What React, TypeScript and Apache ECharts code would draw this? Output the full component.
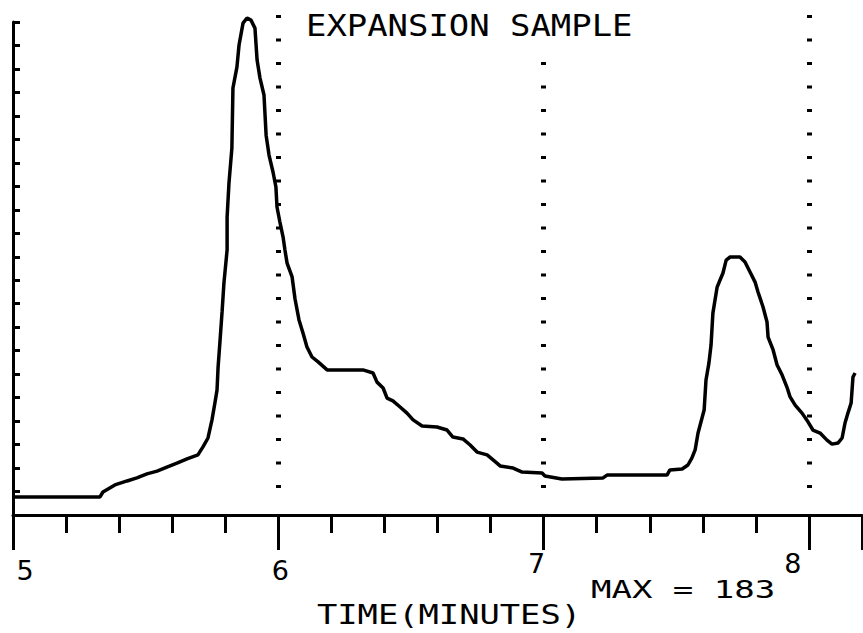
import React, { useEffect, useRef } from "react";
import * as echarts from "echarts";

// Time (minutes)
const times = [
  5.0, 5.328, 5.339, 5.384, 5.43, 5.467, 5.505, 5.543, 5.58, 5.618, 5.656, 5.697,
  5.716, 5.735, 5.75, 5.761, 5.769, 5.773, 5.78, 5.788, 5.795, 5.807, 5.807, 5.814,
  5.825, 5.829, 5.844, 5.852, 5.867, 5.882, 5.897, 5.912, 5.92, 5.931, 5.946, 5.954,
  5.965, 5.98, 5.991, 5.995, 6.006, 6.018, 6.025, 6.033, 6.052, 6.063, 6.078, 6.093,
  6.108, 6.127, 6.15, 6.184, 6.319, 6.357, 6.372, 6.395, 6.41, 6.432, 6.459, 6.485,
  6.508, 6.542, 6.598, 6.636, 6.658, 6.696, 6.723, 6.749, 6.787, 6.824, 6.836, 6.885,
  6.919, 6.994, 7.005, 7.069, 7.224, 7.239, 7.465, 7.476, 7.522, 7.544, 7.559, 7.571,
  7.582, 7.597, 7.605, 7.612, 7.623, 7.631, 7.638, 7.654, 7.665, 7.676, 7.688, 7.703,
  7.74, 7.759, 7.778, 7.797, 7.808, 7.827, 7.842, 7.846, 7.865, 7.88, 7.899, 7.917,
  7.929, 7.948, 7.974, 7.997, 8.015, 8.042, 8.068, 8.087, 8.11, 8.125, 8.136, 8.147,
  8.159, 8.166, 8.174,
];

// Detector response (arbitrary units; axis has 21 tick intervals of 10)
const signal = [
  7.7, 7.7, 9.8, 12.8, 14.5, 15.8, 17.5, 18.7, 20.4, 22.1, 23.9, 25.6,
  29.0, 32.8, 40.5, 47.7, 53.2, 63.0, 73.7, 86.5, 98.8, 112.9, 126.9, 141.4,
  156.3, 181.9, 190.8, 200.2, 209.5, 211.7, 210.8, 207.4, 193.8, 186.1, 178.9, 161.8,
  153.3, 146.1, 139.7, 131.2, 124.8, 118.4, 112.9, 107.3, 101.4, 92.0, 83.1, 77.5,
  71.6, 67.3, 65.2, 61.8, 61.8, 60.5, 56.6, 54.1, 49.8, 48.6, 46.0, 43.4,
  40.5, 37.9, 37.5, 36.2, 33.2, 32.4, 29.8, 26.8, 25.6, 22.1, 20.9, 20.0,
  18.3, 17.9, 16.6, 15.3, 15.8, 17.0, 17.0, 19.2, 19.6, 21.3, 24.3, 27.7,
  34.9, 41.3, 44.7, 57.5, 64.7, 72.4, 86.0, 97.1, 100.1, 103.1, 108.6, 109.9,
  109.9, 107.8, 103.5, 99.2, 95.0, 88.6, 82.2, 75.8, 70.3, 63.9, 59.6, 54.5,
  50.3, 46.8, 43.4, 39.6, 36.2, 34.9, 31.9, 30.2, 30.7, 32.8, 39.2, 43.4,
  47.7, 58.8, 60.5,
];

const xMin = 5;
const xMax = 8.2;
const yMin = 0;
const yMax = 210;

const titleText = "EXPANSION SAMPLE";
const xAxisTitle = "TIME(MINUTES)";
const maxText = "MAX = 183";

const FONT = "DejaVu Sans Mono";

export default function App() {
  const ref = useRef<HTMLDivElement>(null);
  useEffect(() => {
    if (!ref.current) return;
    const chart = echarts.init(ref.current, null, { renderer: "svg" });
    const data = times.map((t, i) => [t, signal[i]]);
    const base = { fontFamily: "DejaVu Sans", fontSize: 27, color: "#000" };
    const labelRich: any = {
      v5: { ...base, padding: [7, 0, 0, 24] },
      v6: { ...base, padding: [7, 0, 0, 4] },
      v7: { ...base, padding: [0, 14, 0, 0] },
      v8: { ...base, padding: [0, 32, 0, 0] },
    };
    chart.setOption({
      animation: false,
      backgroundColor: "#fff",
      grid: [
        { left: 13, top: 22, width: 849, height: 493, outerBoundsMode: "none", containLabel: false },
        { left: 13, top: 15, width: 849, height: 474, outerBoundsMode: "none", containLabel: false },
      ],
      xAxis: [
        {
          type: "value",
          gridIndex: 0,
          min: xMin,
          max: xMax,
          interval: 1,
          axisLine: { show: true, onZero: false, lineStyle: { color: "#000", width: 3 } },
          axisTick: { show: true, length: 35, lineStyle: { color: "#000", width: 3 } },
          minorTick: { show: true, splitNumber: 5, length: 18, lineStyle: { color: "#000", width: 3 } },
          splitLine: { show: false },
          axisLabel: {
            show: true,
            margin: 35,
            showMaxLabel: false,
            formatter: (v: number) => `{v${v}|${v}}`,
            rich: labelRich,
          },
        },
        {
          type: "value",
          gridIndex: 1,
          min: xMin,
          max: xMax,
          interval: 1,
          axisLine: { show: false },
          axisTick: { show: false },
          axisLabel: { show: false },
          splitLine: {
            show: true,
            showMinLine: false,
            showMaxLine: false,
            lineStyle: { color: "#000", width: 5, type: [3, 20.5] },
          },
        },
      ],
      yAxis: [
        {
          type: "value",
          gridIndex: 0,
          min: yMin,
          max: yMax,
          interval: 10,
          axisLine: { show: true, onZero: false, lineStyle: { color: "#000", width: 3 } },
          axisTick: { show: true, inside: true, length: 7, lineStyle: { color: "#000", width: 3 } },
          axisLabel: { show: false },
          splitLine: { show: false },
        },
        {
          type: "value",
          gridIndex: 1,
          min: 0,
          max: 1,
          show: false,
        },
      ],
      graphic: [
        {
          type: "rect",
          z: 100,
          shape: { x: 298, y: 8, width: 345, height: 37 },
          style: { fill: "#fff" },
        },
        {
          type: "text",
          z: 101,
          x: 306,
          y: 26,
          scaleX: 1.13,
          style: {
            text: titleText,
            font: `30px "${FONT}"`,
            fill: "#000",
            textAlign: "left",
            textVerticalAlign: "middle",
          },
        },
        {
          type: "text",
          z: 101,
          x: 317,
          y: 615,
          scaleX: 1.25,
          style: {
            text: xAxisTitle,
            font: `27px "${FONT}"`,
            fill: "#000",
            textAlign: "left",
            textVerticalAlign: "middle",
          },
        },
        {
          type: "text",
          z: 101,
          x: 591,
          y: 589,
          scaleX: 1.36,
          style: {
            text: maxText,
            font: `25px "${FONT}"`,
            fill: "#000",
            textAlign: "left",
            textVerticalAlign: "middle",
          },
        },
      ],
      series: [
        {
          type: "line",
          xAxisIndex: 0,
          yAxisIndex: 0,
          data,
          showSymbol: false,
          clip: false,
          lineStyle: { color: "#000", width: 3.5 },
          z: 5,
        },
      ],
    });
    return () => chart.dispose();
  }, []);
  return (
    <div
      ref={ref}
      style={{ position: "fixed", left: 0, top: 0, width: 863, height: 633, background: "#fff" }}
    />
  );
}
